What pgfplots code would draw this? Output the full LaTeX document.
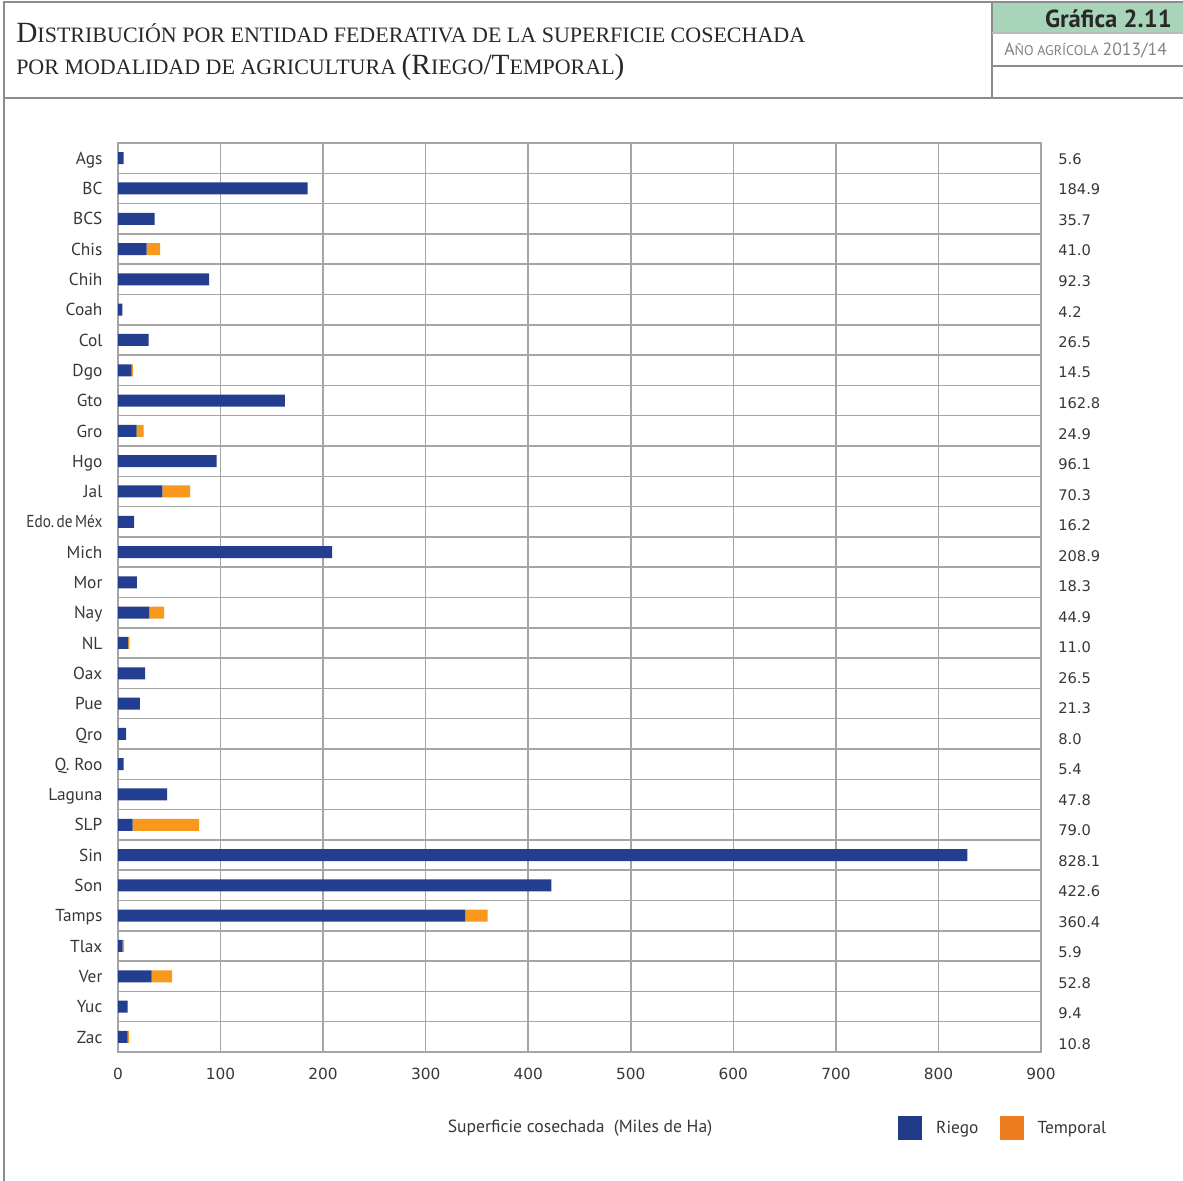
\documentclass[border=0pt]{standalone}
\usepackage{fontspec}
\setmainfont{PT Sans}
\newfontfamily\numfont{DejaVu Sans}
\newfontfamily\titlefont{Liberation Serif}
\usepackage{pgfplots}
\pgfplotsset{compat=1.18}
\usepackage{pgfplotstable}
\definecolor{riego}{RGB}{35,62,143}
\definecolor{temporal}{RGB}{248,152,29}
\definecolor{legorange}{RGB}{238,125,34}
\definecolor{legblue}{RGB}{31,59,135}
\definecolor{gridgray}{RGB}{165,165,165}
\definecolor{framegray}{RGB}{140,140,140}
\definecolor{headgreen}{RGB}{168,213,186}
\definecolor{titlecol}{RGB}{40,40,40}
\definecolor{labelgray}{RGB}{55,55,55}
\definecolor{subgray}{RGB}{130,130,130}

\newcommand\BigC[1]{{\fontsize{22}{22}\selectfont #1}}
\newcommand\SmC[1]{{\fontsize{16.5}{16.5}\selectfont #1}}

\pgfplotstableread{
idx riego temporal
1 5.6 0
2 184.9 0
3 35.7 0
4 28.0 13.0
5 88.8 0
6 4.2 0
7 29.9 0
8 13.3 1.2
9 162.8 0
10 18.2 6.7
11 96.1 0
12 43.2 27.1
13 15.8 0
14 208.9 0
15 18.3 0
16 30.5 14.4
17 9.8 1.2
18 26.5 0
19 21.3 0
20 8.0 0
21 5.4 0
22 47.8 0
23 14.3 64.7
24 828.1 0
25 422.6 0
26 338.4 22.0
27 4.5 1.4
28 32.8 20.0
29 9.4 0
30 9.5 1.3
}\datatable

\begin{document}
\begin{tikzpicture}[x=0.75pt,y=-0.75pt]
\path[use as bounding box] (0,0) rectangle (1183,1181);
% header
\fill[headgreen] (992,2) rectangle (1183,33);
\draw[framegray, line width=1pt] (1183,2) -- (4,2) -- (4,1181);
\draw[framegray, line width=1pt] (4,98) -- (1183,98);
\draw[framegray, line width=1pt] (992,2) -- (992,98);
\draw[framegray!60, line width=0.8pt] (992,33) -- (1183,33);
\draw[framegray, line width=1pt] (992,66) -- (1183,66);
\node[anchor=base west, inner sep=0pt, text=titlecol, font=\titlefont] at (16,43)
  {\BigC{D}\SmC{ISTRIBUCIÓN POR ENTIDAD FEDERATIVA DE LA SUPERFICIE COSECHADA}};
\node[anchor=base west, inner sep=0pt, text=titlecol, font=\titlefont] at (16,75)
  {\SmC{POR MODALIDAD DE AGRICULTURA }\BigC{(R}\SmC{IEGO}\BigC{/T}\SmC{EMPORAL}\BigC{)}};
\node[anchor=base east, inner sep=0pt, text=titlecol] at (1172,28)
  {\fontsize{18.5}{18.5}\selectfont\bfseries Gráfica 2.11};
\node[anchor=base west, inner sep=0pt, text=subgray] at (1004,56)
  {{\fontsize{13.3}{13.3}\selectfont A}{\fontsize{10.5}{10.5}\selectfont ÑO AGRÍCOLA }{\fontsize{13.3}{13.3}\selectfont 2013/14}};

\begin{axis}[
  at={(88.5pt,-789pt)}, anchor=south west,
  scale only axis, width=692.25pt, height=681.75pt,
  xbar stacked, bar width=9pt,
  xmin=0, xmax=900, ymin=0.5, ymax=30.5, y dir=reverse,
  xtick={0,100,...,900},
  ytick={1,...,30},
  yticklabels={Ags,BC,BCS,Chis,Chih,Coah,Col,Dgo,Gto,Gro,Hgo,Jal,\scalebox{0.88}[1]{Edo.\,de\,Méx},Mich,Mor,Nay,NL,Oax,Pue,Qro,Q.\ Roo,Laguna,SLP,Sin,Son,Tamps,Tlax,Ver,Yuc,Zac},
  minor ytick={1.5,2.5,...,29.5},
  xmajorgrids, yminorgrids,
  major grid style={gridgray, line width=1.1pt},
  minor grid style={gridgray, line width=1.1pt},
  axis line style={gridgray, line width=1.1pt},
  major tick length=0pt, minor tick length=0pt,
  tick style={draw=none},
  /pgf/number format/assume math mode=true,
  xticklabel style={font=\numfont\fontsize{11.5}{11.5}\selectfont, text=labelgray, anchor=north, inner sep=0pt, yshift=-11.5pt},
  yticklabel style={font=\fontsize{13}{13}\selectfont, text=labelgray, anchor=base east, inner sep=0pt, xshift=-11.5pt, yshift=-4.6pt},
  legend style={at={(0.845,-0.0836)}, anchor=west, draw=none, fill=none, inner sep=0pt,
    font=\fontsize{13}{13}\selectfont\color{labelgray}, legend columns=2,
    /tikz/every even column/.append style={column sep=14pt},
    cells={anchor=west}},
  legend image code/.code={\fill[#1] (0pt,-9pt) rectangle (18pt,9pt);},
]
\addplot[fill=riego, draw=none, legend image post style={fill=legblue}] table[x=riego, y=idx] {\datatable};
\addplot[fill=temporal, draw=none, legend image post style={fill=legorange}] table[x=temporal, y=idx] {\datatable};
\legend{\hspace{8.5pt}Riego,\hspace{8.5pt}Temporal}
\end{axis}

\begin{axis}[
  at={(88.5pt,-794.475pt)}, anchor=south west,
  scale only axis, width=692.25pt, height=686.6pt,
  xmin=0, xmax=900, ymin=0.5, ymax=30.5, y dir=reverse,
  xtick=\empty, ytick={1,...,30},
  yticklabels={5.6,184.9,35.7,41.0,92.3,4.2,26.5,14.5,162.8,24.9,96.1,70.3,16.2,208.9,18.3,44.9,11.0,26.5,21.3,8.0,5.4,47.8,79.0,828.1,422.6,360.4,5.9,52.8,9.4,10.8},
  yticklabel pos=right,
  axis line style={draw=none}, tick style={draw=none}, major tick length=0pt,
  /pgf/number format/assume math mode=true,
  yticklabel style={font=\numfont\fontsize{11}{11}\selectfont, text=labelgray, anchor=west, inner sep=0pt, xshift=12.75pt},
]
\addplot[draw=none] coordinates {(0,1)};
\end{axis}

\node[anchor=center, text=labelgray, font=\fontsize{13.2}{13.2}\selectfont] at (580,1128) {Superficie cosechada\ \ (Miles de Ha)};
\end{tikzpicture}
\end{document}
